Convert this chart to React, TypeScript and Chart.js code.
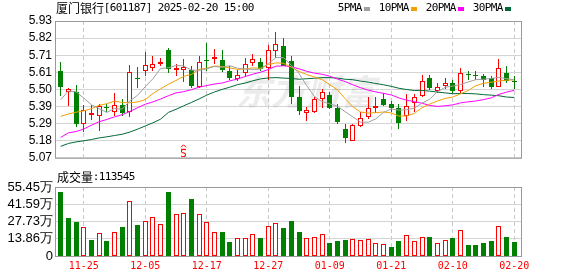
import React, { useEffect, useRef } from 'react';
import { Chart, registerables } from 'chart.js';

Chart.register(...registerables);

// ---------- data ----------
const dates = [
  '11-20', '11-21', '11-22', '11-25', '11-26', '11-27', '11-28', '11-29', '12-02', '12-03',
  '12-04', '12-05', '12-06', '12-09', '12-10', '12-11', '12-12', '12-13', '12-16', '12-17',
  '12-18', '12-19', '12-20', '12-23', '12-24', '12-25', '12-26', '12-27', '12-30', '12-31',
  '01-02', '01-03', '01-06', '01-07', '01-08', '01-09', '01-10', '01-13', '01-14', '01-15',
  '01-16', '01-17', '01-20', '01-21', '01-22', '01-23', '01-24', '01-27', '02-05', '02-06',
  '02-07', '02-10', '02-11', '02-12', '02-13', '02-14', '02-17', '02-18', '02-19', '02-20',
];

const openP = [
  5.614, 5.483, 5.483, 5.28, 5.34, 5.33, 5.387, 5.36, 5.405, 5.355,
  5.572, 5.617, 5.635, 5.66, 5.745, 5.625, 5.624, 5.62, 5.514, 5.684,
  5.689, 5.687, 5.614, 5.566, 5.606, 5.665, 5.673, 5.633, 5.739, 5.775,
  5.677, 5.454, 5.352, 5.355, 5.442, 5.467, 5.385, 5.252, 5.178, 5.268,
  5.328, 5.38, 5.44, 5.41, 5.381, 5.331, 5.415, 5.46, 5.57, 5.49,
  5.52, 5.54, 5.49, 5.592, 5.588, 5.584, 5.57, 5.514, 5.604, 5.554,
];
const highP = [
  5.675, 5.511, 5.528, 5.4, 5.405, 5.41, 5.407, 5.477, 5.44, 5.655,
  5.642, 5.732, 5.712, 5.7, 5.762, 5.659, 5.689, 5.645, 5.713, 5.789,
  5.755, 5.745, 5.649, 5.62, 5.695, 5.725, 5.699, 5.779, 5.858, 5.824,
  5.713, 5.52, 5.387, 5.455, 5.503, 5.485, 5.408, 5.28, 5.283, 5.355,
  5.452, 5.454, 5.48, 5.427, 5.41, 5.47, 5.47, 5.59, 5.59, 5.54,
  5.57, 5.56, 5.633, 5.614, 5.614, 5.594, 5.584, 5.689, 5.645, 5.584,
];
const lowP = [
  5.458, 5.398, 5.266, 5.235, 5.31, 5.24, 5.358, 5.333, 5.335, 5.328,
  5.51, 5.583, 5.615, 5.645, 5.602, 5.584, 5.545, 5.506, 5.506, 5.614,
  5.659, 5.61, 5.56, 5.554, 5.58, 5.645, 5.614, 5.56, 5.699, 5.645,
  5.41, 5.341, 5.301, 5.35, 5.38, 5.377, 5.284, 5.166, 5.175, 5.262,
  5.315, 5.35, 5.395, 5.355, 5.251, 5.301, 5.36, 5.454, 5.494, 5.48,
  5.5, 5.48, 5.48, 5.56, 5.56, 5.514, 5.504, 5.514, 5.54, 5.5,
];
const closeP = [
  5.514, 5.5, 5.28, 5.37, 5.35, 5.395, 5.382, 5.405, 5.35, 5.61,
  5.566, 5.652, 5.658, 5.675, 5.63, 5.635, 5.643, 5.52, 5.673, 5.68,
  5.703, 5.62, 5.57, 5.59, 5.659, 5.689, 5.626, 5.745, 5.785, 5.649,
  5.455, 5.365, 5.368, 5.44, 5.485, 5.385, 5.293, 5.195, 5.276, 5.322,
  5.385, 5.395, 5.4, 5.381, 5.287, 5.397, 5.45, 5.554, 5.506, 5.516,
  5.54, 5.49, 5.6, 5.588, 5.585, 5.556, 5.514, 5.633, 5.554, 5.544,
];

// volume in 万
const volumes = [
  51.4, 30.5, 27.3, 23.0, 12.9, 18.5, 12.1, 19.3, 23.3, 43.9,
  24.9, 27.9, 31.1, 25.7, 51.4, 33.8, 34.3, 45.8, 33.8, 27.1,
  19.0, 19.3, 11.3, 14.2, 14.2, 17.4, 14.5, 23.8, 26.5, 22.5,
  28.1, 19.3, 14.2, 15.0, 17.7, 10.4, 12.1, 12.9, 13.4, 12.9,
  13.4, 10.4, 9.6, 7.2, 12.1, 16.9, 12.1, 15.0, 15.3, 10.4,
  12.9, 14.5, 20.9, 8.8, 8.8, 10.4, 12.1, 24.1, 15.3, 11.3545,
];

const ma5 = [
  5.435, 5.49, 5.485, 5.445, 5.403, 5.379, 5.355, 5.38, 5.376, 5.428,
  5.463, 5.517, 5.567, 5.632, 5.636, 5.65, 5.648, 5.621, 5.62, 5.63,
  5.644, 5.639, 5.649, 5.633, 5.628, 5.626, 5.627, 5.662, 5.701, 5.699,
  5.652, 5.6, 5.524, 5.455, 5.423, 5.409, 5.394, 5.36, 5.327, 5.294,
  5.294, 5.315, 5.356, 5.377, 5.37, 5.372, 5.383, 5.414, 5.439, 5.485,
  5.513, 5.521, 5.53, 5.547, 5.561, 5.564, 5.569, 5.575, 5.568, 5.56,
];
const ma10 = [
  5.331, 5.345, 5.357, 5.365, 5.379, 5.4, 5.41, 5.426, 5.418, 5.416,
  5.421, 5.436, 5.474, 5.504, 5.532, 5.556, 5.582, 5.594, 5.626, 5.633,
  5.647, 5.644, 5.635, 5.626, 5.629, 5.635, 5.633, 5.656, 5.667, 5.664,
  5.639, 5.613, 5.593, 5.578, 5.561, 5.53, 5.497, 5.442, 5.391, 5.358,
  5.351, 5.354, 5.358, 5.352, 5.332, 5.333, 5.349, 5.385, 5.408, 5.427,
  5.443, 5.452, 5.472, 5.493, 5.523, 5.539, 5.545, 5.553, 5.558, 5.56,
];
const ma20 = [
  5.198, 5.227, 5.235, 5.251, 5.275, 5.297, 5.311, 5.327, 5.341, 5.361,
  5.385, 5.407, 5.421, 5.44, 5.46, 5.478, 5.486, 5.498, 5.514, 5.524,
  5.534, 5.54, 5.554, 5.565, 5.581, 5.596, 5.608, 5.625, 5.646, 5.648,
  5.643, 5.629, 5.614, 5.602, 5.595, 5.583, 5.565, 5.549, 5.529, 5.511,
  5.495, 5.484, 5.475, 5.465, 5.446, 5.432, 5.423, 5.413, 5.399, 5.393,
  5.397, 5.403, 5.415, 5.422, 5.427, 5.436, 5.447, 5.469, 5.483, 5.494,
];
const ma30 = [
  5.142, 5.16, 5.17, 5.177, 5.185, 5.195, 5.202, 5.21, 5.218, 5.232,
  5.25, 5.27, 5.29, 5.313, 5.355, 5.375, 5.397, 5.418, 5.44, 5.464,
  5.484, 5.5, 5.514, 5.53, 5.54, 5.554, 5.566, 5.572, 5.574, 5.571,
  5.569, 5.564, 5.567, 5.57, 5.574, 5.574, 5.571, 5.564, 5.561, 5.552,
  5.546, 5.537, 5.529, 5.519, 5.507, 5.499, 5.493, 5.494, 5.489, 5.483,
  5.478, 5.473, 5.474, 5.474, 5.472, 5.467, 5.464, 5.46, 5.452, 5.449,
];

const priceTickValues = [5.07, 5.1775, 5.285, 5.3925, 5.5, 5.6075, 5.715, 5.8225, 5.93];
const priceTickLabels = ['5.07', '5.18', '5.29', '5.39', '5.50', '5.61', '5.71', '5.82', '5.93'];
const volTickValues = [0, 13.8625, 27.725, 41.5875, 55.45];
const volTickLabels = ['0', '13.86万', '27.73万', '41.59万', '55.45万'];
const xTickIndices = [3, 11, 19, 27, 35, 43, 51, 59];
const sellSignalIdx = [16];

const stockName = '厦门银行';
const stockInfo = '[601187] 2025-02-20 15:00';
const maNames = ['5PMA', '10PMA', '20PMA', '30PMA'];
const volumeTitle = '成交量';
const volumeLast = ':113545';

// ---------- styles ----------
const RED = '#ff0000';
const GREEN = '#008000';
const MA_COLORS = ['#a0a0a0', '#f5a000', '#ff00ff', '#006a35'];
const FRAME = '#999999';
const HGRID = '#d4d4d4';
const VGRID = '#c8c8c8';
const X_MIN = -0.74;
const X_MAX = 60.0;

const isUp = (i: number) => closeP[i] >= openP[i];
const volUp = (i: number) => (i === 0 ? closeP[0] >= openP[0] : closeP[i] >= closeP[i - 1]);

function drawCells(ctx: CanvasRenderingContext2D, text: string, x: number, y: number, cell = 6) {
  ctx.save();
  ctx.font = '11px "DejaVu Sans Mono"';
  ctx.textAlign = 'center';
  ctx.textBaseline = 'middle';
  for (let k = 0; k < text.length; k++) {
    ctx.fillText(text[k], x + k * cell + cell / 2, y);
  }
  ctx.restore();
}

const snapPlugin = {
  id: 'snap',
  beforeDatasetsDraw(chart: any) {
    chart.getSortedVisibleDatasetMetas().forEach((meta: any) => {
      if (meta.type !== 'bar') return;
      meta.data.forEach((el: any) => {
        el.x = Math.floor(el.x) + 0.5;
        const y = Math.round(el.y);
        const b = Math.round(el.base);
        el.y = y;
        el.base = b === y ? y + 1 : b;
      });
    });
  },
};

const framePlugin = {
  id: 'frame',
  afterDatasetsDraw(chart: any) {
    const { ctx, chartArea: a } = chart;
    ctx.save();
    ctx.strokeStyle = FRAME;
    ctx.lineWidth = 1;
    ctx.strokeRect(a.left + 0.5, a.top + 0.5, a.right - a.left - 1, a.bottom - a.top);
    ctx.restore();
  },
};

const watermarkPlugin = {
  id: 'watermark',
  beforeDatasetsDraw(chart: any) {
    const { ctx } = chart;
    ctx.save();
    ctx.font = 'italic bold 35px "Noto Sans CJK SC"';
    ctx.fillStyle = 'rgba(150,150,150,0.18)';
    ctx.textBaseline = 'middle';
    ctx.textAlign = 'left';
    ctx.fillText('东方财富', 236, 92);
    ctx.restore();
  },
};

const headerPlugin = {
  id: 'header',
  afterDraw(chart: any) {
    const { ctx } = chart;
    ctx.save();
    ctx.fillStyle = '#000';
    ctx.textBaseline = 'middle';
    ctx.textAlign = 'left';
    ctx.font = '12px "Noto Sans CJK SC"';
    ctx.fillText(stockName, 56, 8);
    drawCells(ctx, stockInfo, 104, 8);
    let x = 338;
    maNames.forEach((name, k) => {
      ctx.fillStyle = '#000';
      drawCells(ctx, name, x, 8);
      const sq = x + name.length * 6 + 2;
      ctx.fillStyle = MA_COLORS[k];
      ctx.fillRect(sq, 7, 6, 4);
      x = sq + 15;
    });
    // sell signal
    const xs = chart.scales.x;
    const bottom = chart.chartArea.bottom;
    sellSignalIdx.forEach((i) => {
      const px = Math.floor(xs.getPixelForValue(i)) + 0.5;
      ctx.strokeStyle = RED;
      ctx.fillStyle = RED;
      ctx.lineWidth = 1;
      ctx.beginPath();
      ctx.moveTo(px - 2.5, bottom - 10.5);
      ctx.lineTo(px, bottom - 13);
      ctx.lineTo(px + 2.5, bottom - 10.5);
      ctx.moveTo(px - 2.5, bottom - 8.5);
      ctx.lineTo(px + 2.5, bottom - 8.5);
      ctx.stroke();
      ctx.font = '10px "DejaVu Sans"';
      ctx.textAlign = 'center';
      ctx.textBaseline = 'middle';
      ctx.fillText('S', px, bottom - 3);
    });
    ctx.restore();
  },
};

const volHeaderPlugin = {
  id: 'volHeader',
  afterDraw(chart: any) {
    const { ctx } = chart;
    ctx.save();
    ctx.fillStyle = '#000';
    ctx.textBaseline = 'middle';
    ctx.textAlign = 'left';
    ctx.font = '12px "Noto Sans CJK SC"';
    ctx.fillText(volumeTitle, 57, 9);
    drawCells(ctx, volumeLast, 93, 9);
    // volume axis labels, placed with the y scale
    const ys = chart.scales.y;
    ctx.font = '13px "Liberation Sans", Arial, sans-serif';
    ctx.textAlign = 'right';
    volTickValues.forEach((v, k) => {
      ctx.fillText(volTickLabels[k], ys.right - 2, ys.getPixelForValue(v));
    });
    ctx.restore();
  },
};

function xScale(showLabels: boolean) {
  return {
    type: 'linear',
    min: X_MIN,
    max: X_MAX,
    offset: false,
    afterBuildTicks: (s: any) => {
      s.ticks = xTickIndices.map((v) => ({ value: v }));
    },
    ticks: {
      display: showLabels,
      autoSkip: false,
      maxRotation: 0,
      padding: 4,
      color: RED,
      font: { family: '"DejaVu Sans Mono", monospace', size: 10 },
      callback: (v: any) => dates[v] ?? '',
    },
    grid: { color: VGRID, drawTicks: false, offset: false, lineWidth: 1 },
    border: { display: false, dash: [4, 3] },
    afterFit: (s: any) => {
      s.height = showLabels ? 20 : 0;
    },
  };
}

export default function App() {
  const mainRef = useRef<HTMLCanvasElement | null>(null);
  const volRef = useRef<HTMLCanvasElement | null>(null);

  useEffect(() => {
    document.body.style.margin = '0';
    const idx = dates.map((_, i) => i);

    const main = new Chart(mainRef.current as HTMLCanvasElement, {
      type: 'bar',
      data: {
        datasets: [
          ...[ma5, ma10, ma20, ma30].map((arr, k) => ({
            type: 'line' as const,
            label: maNames[k],
            data: arr.map((y, x) => ({ x, y })),
            borderColor: MA_COLORS[k],
            borderWidth: 1,
            pointRadius: 0,
            tension: 0,
            fill: false,
            order: 0,
          })),
          {
            type: 'bar' as const,
            label: 'body',
            data: idx.map((i) => ({ x: i, y: [openP[i], closeP[i]] })),
            backgroundColor: idx.map((i) => (isUp(i) ? '#ffffff' : GREEN)),
            borderColor: idx.map((i) => (isUp(i) ? RED : GREEN)),
            borderWidth: 1,
            borderSkipped: false,
            barThickness: 5,
            minBarLength: 1,
            grouped: false,
            inflateAmount: 0,
            order: 1,
          },
          {
            type: 'bar' as const,
            label: 'wick',
            data: idx.map((i) => ({ x: i, y: [lowP[i], highP[i]] })),
            backgroundColor: idx.map((i) => (isUp(i) ? RED : GREEN)),
            borderWidth: 0,
            barThickness: 1,
            grouped: false,
            inflateAmount: 0,
            order: 2,
          },
        ],
      } as any,
      options: {
        animation: false,
        responsive: false,
        devicePixelRatio: 1,
        events: [],
        layout: { padding: { top: 21, right: 56, bottom: 3, left: 0 } },
        plugins: { legend: { display: false }, tooltip: { enabled: false } },
        scales: {
          x: xScale(false) as any,
          y: {
            type: 'linear',
            min: 5.07,
            max: 5.93,
            beginAtZero: false,
            afterBuildTicks: (s: any) => {
              s.ticks = priceTickValues.map((v) => ({ value: v }));
            },
            ticks: {
              autoSkip: false,
              padding: 3,
              color: '#000',
              font: { family: '"Liberation Sans", Arial, sans-serif', size: 12 },
              callback: (_v: any, i: number) => priceTickLabels[i],
            },
            grid: { color: HGRID, drawTicks: false },
            border: { display: false },
            afterFit: (s: any) => {
              s.width = 55;
            },
          } as any,
        },
      },
      plugins: [snapPlugin, watermarkPlugin, framePlugin, headerPlugin],
    });

    const vol = new Chart(volRef.current as HTMLCanvasElement, {
      type: 'bar',
      data: {
        datasets: [
          {
            label: 'volume',
            data: idx.map((i) => ({ x: i, y: volumes[i] })),
            backgroundColor: idx.map((i) => (volUp(i) ? '#ffffff' : GREEN)),
            borderColor: idx.map((i) => (volUp(i) ? RED : GREEN)),
            borderWidth: 1,
            borderSkipped: false,
            barThickness: 5,
            grouped: false,
            inflateAmount: 0,
          },
        ],
      } as any,
      options: {
        animation: false,
        responsive: false,
        devicePixelRatio: 1,
        events: [],
        layout: { padding: { top: 19, right: 56, bottom: 0, left: 0 } },
        plugins: { legend: { display: false }, tooltip: { enabled: false } },
        scales: {
          x: xScale(true) as any,
          y: {
            type: 'linear',
            min: 0,
            max: 55.45,
            beginAtZero: false,
            afterBuildTicks: (s: any) => {
              s.ticks = volTickValues.map((v) => ({ value: v }));
            },
            ticks: { display: false },
            grid: { color: HGRID, drawTicks: false },
            border: { display: false },
            afterFit: (s: any) => {
              s.width = 55;
            },
          } as any,
        },
      },
      plugins: [snapPlugin, framePlugin, volHeaderPlugin],
    });

    return () => {
      main.destroy();
      vol.destroy();
    };
  }, []);

  return (
    <div style={{ position: 'relative', width: 578, height: 276, background: '#fff', overflow: 'hidden' }}>
      <canvas
        ref={mainRef}
        width={578}
        height={168}
        style={{ position: 'absolute', left: 0, top: 0, width: 578, height: 168 }}
      />
      <canvas
        ref={volRef}
        width={578}
        height={108}
        style={{ position: 'absolute', left: 0, top: 168, width: 578, height: 108 }}
      />
    </div>
  );
}
